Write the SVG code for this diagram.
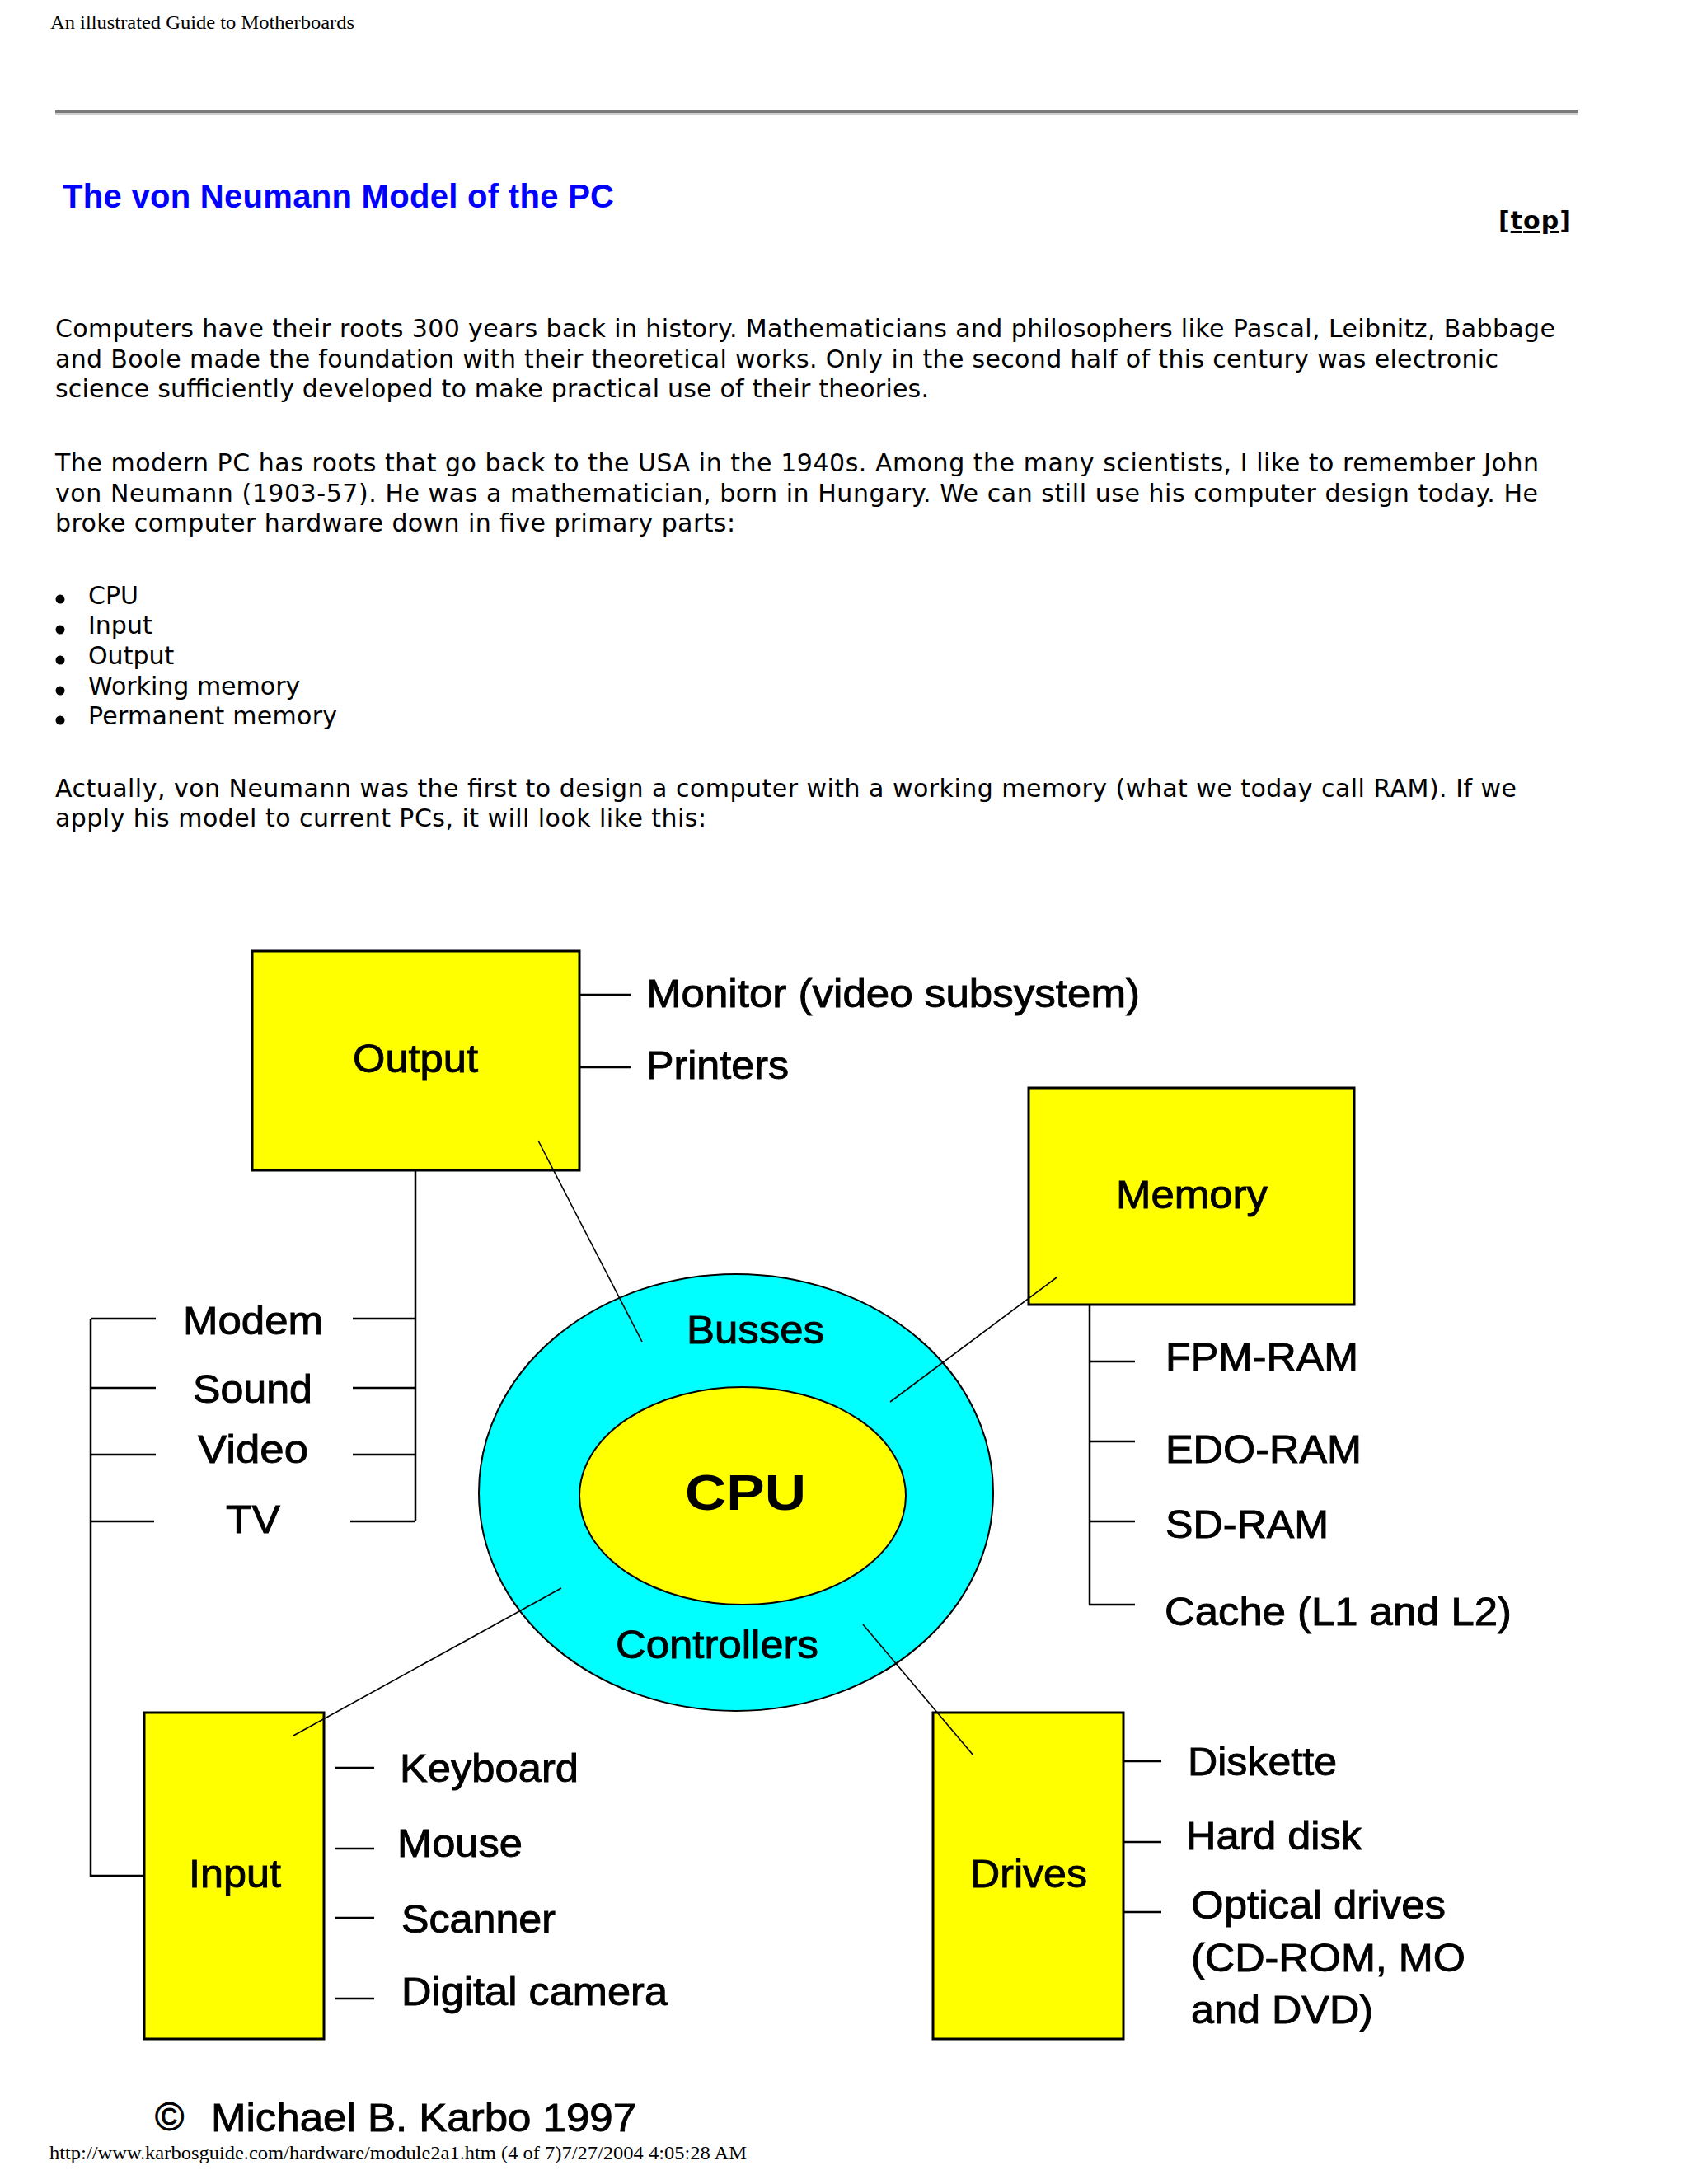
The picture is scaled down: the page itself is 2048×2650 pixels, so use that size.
<svg xmlns="http://www.w3.org/2000/svg" width="2048" height="2650" viewBox="0 0 2048 2650">
<style>
.hdr{font-family:"Liberation Serif","Times New Roman",serif;font-size:24px;fill:#000}
.ttl{font-family:"Liberation Sans",Arial,sans-serif;font-size:40px;font-weight:bold;fill:#0000ff}
.body{font-family:"DejaVu Sans",Verdana,sans-serif;font-size:30px;fill:#000}
.top{font-family:"DejaVu Sans",Verdana,sans-serif;font-size:30px;font-weight:bold;fill:#000;text-decoration:underline}
.lbl{font-family:"Liberation Sans",Arial,sans-serif;font-size:48px;fill:#000;stroke:#000;stroke-width:0.9}
.cpu{font-family:"Liberation Sans",Arial,sans-serif;font-size:62px;font-weight:bold;fill:#000}
.box{fill:#ffff00;stroke:#000;stroke-width:3}
.ln{stroke:#000;stroke-width:2.5;fill:none}
.con{stroke:#000;stroke-width:1.6;fill:none}
</style>
<rect x="0" y="0" width="2048" height="2650" fill="#ffffff"/>

<g id="page">
<text class="hdr" x="61" y="35" textLength="369" lengthAdjust="spacingAndGlyphs">An illustrated Guide to Motherboards</text>
<rect x="67" y="134" width="1848" height="3" fill="#7a7a7a"/>
<rect x="67" y="137" width="1848" height="2" fill="#cfcfcf"/>
<text class="ttl" x="76" y="252" textLength="669">The von Neumann Model of the PC</text>
<text class="top" x="1818" y="278" textLength="88">[top]</text>

<text class="body" x="67" y="409" textLength="1820">Computers have their roots 300 years back in history. Mathematicians and philosophers like Pascal, Leibnitz, Babbage</text>
<text class="body" x="67" y="446" textLength="1751">and Boole made the foundation with their theoretical works. Only in the second half of this century was electronic</text>
<text class="body" x="67" y="482" textLength="1060">science sufficiently developed to make practical use of their theories.</text>

<text class="body" x="67" y="572" textLength="1800">The modern PC has roots that go back to the USA in the 1940s. Among the many scientists, I like to remember John</text>
<text class="body" x="67" y="609" textLength="1799">von Neumann (1903-57). He was a mathematician, born in Hungary. We can still use his computer design today. He</text>
<text class="body" x="67" y="645" textLength="825">broke computer hardware down in five primary parts:</text>

<circle cx="73" cy="727" r="5.5" fill="#000"/>
<circle cx="73" cy="764" r="5.5" fill="#000"/>
<circle cx="73" cy="801" r="5.5" fill="#000"/>
<circle cx="73" cy="838" r="5.5" fill="#000"/>
<circle cx="73" cy="874" r="5.5" fill="#000"/>
<text class="body" x="107" y="733">CPU</text>
<text class="body" x="107" y="769">Input</text>
<text class="body" x="107" y="806">Output</text>
<text class="body" x="107" y="843">Working memory</text>
<text class="body" x="107" y="879" textLength="302">Permanent memory</text>

<text class="body" x="67" y="967" textLength="1773">Actually, von Neumann was the first to design a computer with a working memory (what we today call RAM). If we</text>
<text class="body" x="67" y="1003" textLength="790">apply his model to current PCs, it will look like this:</text>
</g>

<g id="cpu-ring">
<ellipse cx="893" cy="1811" rx="312" ry="265" fill="#00ffff" stroke="#000" stroke-width="2"/>
<ellipse cx="901" cy="1815" rx="198" ry="132" fill="#ffff00" stroke="#000" stroke-width="2"/>
<text class="cpu" x="831" y="1832" textLength="147" lengthAdjust="spacingAndGlyphs">CPU</text>
<text class="lbl" x="833" y="1630" textLength="167" lengthAdjust="spacingAndGlyphs">Busses</text>
<text class="lbl" x="747" y="2012" textLength="246" lengthAdjust="spacingAndGlyphs">Controllers</text>
</g>

<g id="output">
<rect class="box" x="306" y="1154" width="397" height="266"/>
<text class="lbl" x="428" y="1301" textLength="152" lengthAdjust="spacingAndGlyphs">Output</text>
<text class="lbl" x="784" y="1222" textLength="599" lengthAdjust="spacingAndGlyphs">Monitor (video subsystem)</text>
<text class="lbl" x="784" y="1309" textLength="173" lengthAdjust="spacingAndGlyphs">Printers</text>
</g>

<g id="expansion">
<text class="lbl" x="222" y="1619" textLength="170" lengthAdjust="spacingAndGlyphs">Modem</text>
<text class="lbl" x="234" y="1702" textLength="145" lengthAdjust="spacingAndGlyphs">Sound</text>
<text class="lbl" x="240" y="1775" textLength="134" lengthAdjust="spacingAndGlyphs">Video</text>
<text class="lbl" x="274" y="1860" textLength="66" lengthAdjust="spacingAndGlyphs">TV</text>
</g>

<g id="memory">
<rect class="box" x="1248" y="1320" width="395" height="263"/>
<text class="lbl" x="1354" y="1466" textLength="184" lengthAdjust="spacingAndGlyphs">Memory</text>
<text class="lbl" x="1414" y="1663" textLength="234" lengthAdjust="spacingAndGlyphs">FPM-RAM</text>
<text class="lbl" x="1414" y="1775" textLength="238" lengthAdjust="spacingAndGlyphs">EDO-RAM</text>
<text class="lbl" x="1414" y="1866" textLength="198" lengthAdjust="spacingAndGlyphs">SD-RAM</text>
<text class="lbl" x="1413" y="1972" textLength="421" lengthAdjust="spacingAndGlyphs">Cache (L1 and L2)</text>
</g>

<g id="input">
<rect class="box" x="175" y="2078" width="218" height="396"/>
<text class="lbl" x="229" y="2290" textLength="112" lengthAdjust="spacingAndGlyphs">Input</text>
<text class="lbl" x="485" y="2162" textLength="217" lengthAdjust="spacingAndGlyphs">Keyboard</text>
<text class="lbl" x="482" y="2253" textLength="152" lengthAdjust="spacingAndGlyphs">Mouse</text>
<text class="lbl" x="487" y="2345" textLength="187" lengthAdjust="spacingAndGlyphs">Scanner</text>
<text class="lbl" x="487" y="2433" textLength="323" lengthAdjust="spacingAndGlyphs">Digital camera</text>
</g>

<g id="drives">
<rect class="box" x="1132" y="2078" width="231" height="396"/>
<text class="lbl" x="1177" y="2290" textLength="142" lengthAdjust="spacingAndGlyphs">Drives</text>
<text class="lbl" x="1441" y="2154" textLength="181" lengthAdjust="spacingAndGlyphs">Diskette</text>
<text class="lbl" x="1439" y="2244" textLength="213" lengthAdjust="spacingAndGlyphs">Hard disk</text>
<text class="lbl" x="1445" y="2328" textLength="309" lengthAdjust="spacingAndGlyphs">Optical drives</text>
<text class="lbl" x="1445" y="2392" textLength="333" lengthAdjust="spacingAndGlyphs">(CD-ROM, MO</text>
<text class="lbl" x="1445" y="2455" textLength="221" lengthAdjust="spacingAndGlyphs">and DVD)</text>
</g>

<g id="connectors">
<path class="ln" d="M703 1207H765M703 1295H765"/>
<path class="ln" d="M504 1420V1846M428 1600H504M428 1684H504M428 1765H504M425 1846H504"/>
<path class="ln" d="M110 1600V2276H175M110 1600H189M110 1684H189M110 1765H189M110 1846H187"/>
<path class="ln" d="M1322 1583V1947H1377M1322 1652H1377M1322 1749H1377M1322 1846H1377"/>
<path class="ln" d="M406 2145H454M406 2243H454M406 2327H454M406 2425H454"/>
<path class="ln" d="M1363 2137H1409M1363 2235H1409M1363 2320H1409"/>
<line class="con" x1="653" y1="1384" x2="779" y2="1628"/>
<line class="con" x1="1282" y1="1550" x2="1080" y2="1701"/>
<line class="con" x1="681" y1="1927" x2="356" y2="2106"/>
<line class="con" x1="1047" y1="1971" x2="1181" y2="2130"/>
</g>

<g id="footer">
<text class="lbl" x="188" y="2585" font-size="44" stroke-width="0.5">©</text>
<text class="lbl" x="256" y="2586" textLength="516" lengthAdjust="spacingAndGlyphs">Michael B. Karbo 1997</text>
<text class="hdr" x="60" y="2620" font-size="22" textLength="846" lengthAdjust="spacingAndGlyphs">http://www.karbosguide.com/hardware/module2a1.htm (4 of 7)7/27/2004 4:05:28 AM</text>
</g>
</svg>
